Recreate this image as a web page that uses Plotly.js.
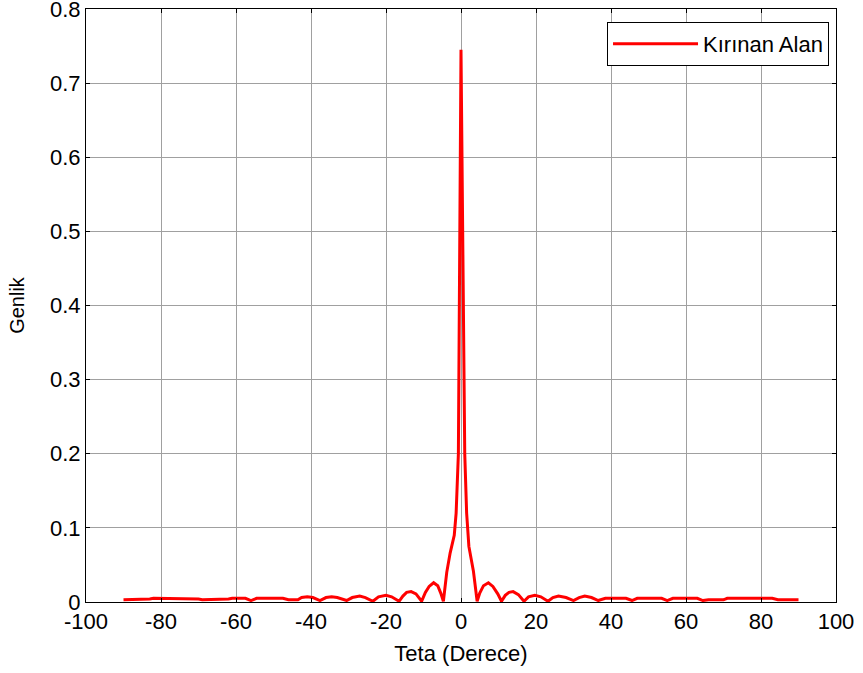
<!DOCTYPE html>
<html>
<head>
<meta charset="utf-8">
<script src="https://cdn.plot.ly/plotly-3.0.1.min.js"></script>
<style>html,body{margin:0;padding:0;background:#fff;}#chart{width:863px;height:673px;}</style>
</head>
<body>
<div id="chart"></div>
<script>
// Teta (Derece) values and amplitude (Genlik)
const teta = [-90, -84, -83, -82, -71, -70, -69, -63, -62, -61, -57.5, -56, -54.5, -47.5, -46, -43.5, -42.5, -41, -39.5, -37.6, -36, -34.5, -33, -30.5, -29, -27, -25.5, -23.5, -22, -20, -18.5, -16.5, -15.5, -14.5, -13.3, -12, -10.5, -9.5, -8.5, -7.3, -6.2, -5.4, -4.7, -3.8, -2.9, -1.8, -1.3, -0.7, 0, 1.0, 1.5, 2.1, 3.3, 4.3, 5.0, 6.0, 7.3, 8.5, 9.8, 10.8, 11.8, 12.8, 13.9, 15.3, 16.8, 18, 19.7, 21.3, 23.2, 24.5, 26, 28, 30, 31.5, 33, 34.8, 36.6, 38.5, 44, 45.6, 47, 53.5, 55, 56.5, 63, 64.5, 66, 70, 71, 83, 84.5, 90];
const genlik = [0.003, 0.003, 0.004, 0.005, 0.005, 0.004, 0.003, 0.003, 0.004, 0.005, 0.005, 0.002, 0.005, 0.005, 0.003, 0.003, 0.006, 0.007, 0.006, 0.002, 0.006, 0.007, 0.006, 0.002, 0.006, 0.008, 0.006, 0.001, 0.007, 0.009, 0.007, 0.001, 0.008, 0.013, 0.014, 0.011, 0.001, 0.013, 0.021, 0.026, 0.022, 0.012, 0.001, 0.04, 0.066, 0.09, 0.12, 0.2, 0.745, 0.2, 0.12, 0.075, 0.042, 0.001, 0.012, 0.022, 0.026, 0.021, 0.011, 0.001, 0.009, 0.013, 0.014, 0.01, 0.001, 0.007, 0.009, 0.007, 0.001, 0.006, 0.008, 0.006, 0.002, 0.006, 0.008, 0.006, 0.002, 0.005, 0.005, 0.002, 0.005, 0.005, 0.002, 0.005, 0.005, 0.002, 0.003, 0.003, 0.005, 0.005, 0.003, 0.003];
const xTickVals = [-100, -80, -60, -40, -20, 0, 20, 40, 60, 80, 100];
const xTickText = ["-100", "-80", "-60", "-40", "-20", "0", "20", "40", "60", "80", "100"];
const yTickVals = [0, 0.1, 0.2, 0.3, 0.4, 0.5, 0.6, 0.7, 0.8];
const yTickText = ["0", "0.1", "0.2", "0.3", "0.4", "0.5", "0.6", "0.7", "0.8"];
const seriesName = "Kırınan Alan";

const fam = "Liberation Sans, Arial, sans-serif";
const tickFont = {family: fam, size: 22, color: "#000"};

const trace = {
  x: teta, y: genlik, type: "scatter", mode: "lines", name: seriesName,
  line: {color: "#ff0000", width: 3}
};

const axisCommon = {
  showline: true, linecolor: "#000", linewidth: 1, mirror: "ticks",
  ticks: "inside", ticklen: 4, tickcolor: "#000", tickwidth: 1,
  showgrid: true, gridcolor: "#a0a0a0", gridwidth: 1,
  zeroline: false, tickfont: tickFont, automargin: false,
  ticklabeloverflow: "allow"
};

const layout = {
  width: 863, height: 673,
  margin: {l: 86, r: 27, t: 9, b: 71},
  paper_bgcolor: "#fff", plot_bgcolor: "#fff",
  font: tickFont,
  showlegend: true,
  legend: {
    x: 0.9907, xanchor: "right", y: 0.978, yanchor: "top",
    bgcolor: "#fff", bordercolor: "#000", borderwidth: 1,
    font: {family: fam, size: 22, color: "#000"},
    itemwidth: 85
  },
  xaxis: Object.assign({}, axisCommon, {
    range: [-100, 100], tickmode: "array", tickvals: xTickVals, ticktext: xTickText,
    title: {text: "Teta (Derece)", font: {family: fam, size: 22, color: "#000"}, standoff: 12}
  }),
  yaxis: Object.assign({}, axisCommon, {
    range: [0, 0.8], tickmode: "array", tickvals: yTickVals, ticktext: yTickText,
    title: {text: "Genlik", font: {family: fam, size: 20, color: "#000"}, standoff: 20}
  })
};

Plotly.newPlot("chart", [trace], layout, {displayModeBar: false, staticPlot: true});
</script>
</body>
</html>
